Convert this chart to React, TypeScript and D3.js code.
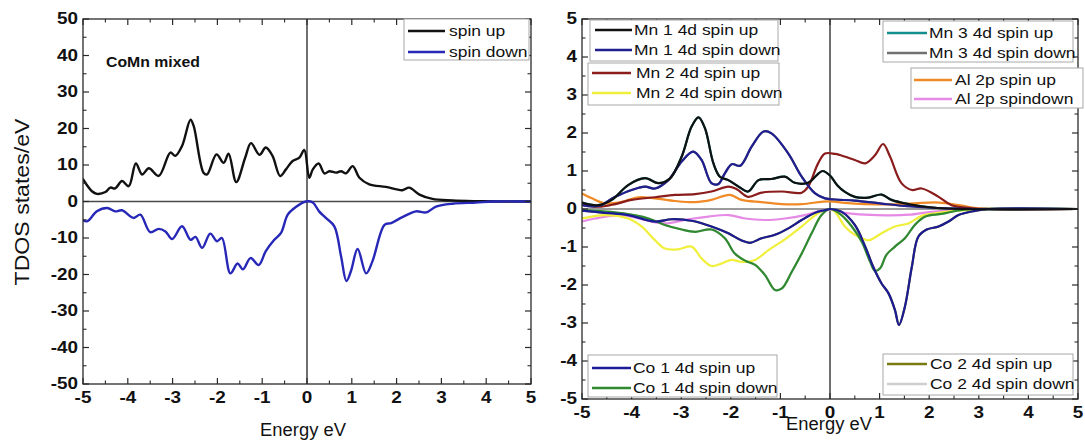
import React from 'react';
import * as d3 from 'd3';

type Pt = [number, number];

// ---------- tick labels ----------
const energyTicks = [-5, -4, -3, -2, -1, 0, 1, 2, 3, 4, 5];
const tdosTicks = [-50, -40, -30, -20, -10, 0, 10, 20, 30, 40, 50];
const pdosTicks = [-5, -4, -3, -2, -1, 0, 1, 2, 3, 4, 5];

// ---------- left panel: total DOS ----------
const tdosUp: Pt[] = [
  [-5, 6.1], [-4.8, 2.8], [-4.69, 2.1], [-4.5, 2.6], [-4.39, 3.8], [-4.28, 3.6], [-4.13, 5.6], [-3.98, 4.2],
  [-3.82, 10.4], [-3.68, 7.4], [-3.53, 9.1], [-3.31, 7], [-3.05, 13.4], [-2.94, 12.5], [-2.79, 15.2],
  [-2.6, 22.4], [-2.53, 20.7], [-2.31, 7.9], [-2.23, 7.4], [-2.02, 12.9], [-1.86, 10.6], [-1.75, 13.1],
  [-1.58, 5.3], [-1.38, 12], [-1.25, 16], [-1.06, 12.8], [-0.92, 14.8], [-0.77, 12.5], [-0.6, 7],
  [-0.47, 8.8], [-0.32, 11.1], [-0.17, 12], [-0.06, 14.1], [0.05, 6.5], [0.13, 8.8], [0.26, 10.4],
  [0.39, 7.7], [0.5, 8.3], [0.65, 7.9], [0.76, 8.3], [0.87, 7.7], [1.02, 9.7], [1.17, 6.5], [1.39, 4.7],
  [1.76, 4], [2.13, 3.1], [2.28, 3.8], [2.51, 1.9], [2.8, 0.7], [3.25, 0.3], [3.77, 0.1], [4.3, 0], [5, 0],
];
const tdosDown: Pt[] = [
  [-5, -5.2], [-4.9, -5.4], [-4.69, -2.7], [-4.46, -1.8], [-4.28, -2.7], [-4.13, -2.4], [-3.87, -4.5],
  [-3.72, -3.6], [-3.5, -8.4], [-3.31, -7.5], [-3.16, -8.2], [-3.01, -10.3], [-2.79, -6.8], [-2.6, -10.5],
  [-2.49, -9.7], [-2.34, -12.7], [-2.16, -8.8], [-2.01, -10.9], [-1.9, -10], [-1.71, -19.7], [-1.55, -17],
  [-1.43, -18.6], [-1.26, -15.5], [-1.08, -17.4], [-0.92, -13.6], [-0.73, -10.5], [-0.58, -8.6],
  [-0.43, -3.6], [-0.25, -1.5], [-0.02, 0], [0.13, -0.3], [0.27, -2.7], [0.42, -4.5], [0.61, -6.8],
  [0.76, -15], [0.88, -21.8], [0.98, -19.1], [1.13, -13], [1.32, -19.7], [1.46, -16.4], [1.73, -6.4],
  [1.88, -5.9], [2.13, -4.3], [2.43, -2.7], [2.66, -3], [2.88, -1.4], [3.25, -0.6], [3.77, -0.3], [4.15, 0], [5, 0],
];

// ---------- right panel: partial DOS ----------
const mn1Up: Pt[] = [
  [-5, 0.17], [-4.67, 0.1], [-4.4, 0.24], [-4.07, 0.63], [-3.73, 0.81], [-3.46, 0.68], [-3.23, 0.8],
  [-2.99, 1.38], [-2.79, 2.17], [-2.65, 2.41], [-2.52, 2.12], [-2.35, 1.2], [-2.22, 0.85], [-2.05, 0.76],
  [-1.81, 0.56], [-1.65, 0.46], [-1.44, 0.76], [-1.18, 0.79], [-0.91, 0.85], [-0.71, 0.69], [-0.44, 0.69],
  [-0.26, 0.9], [-0.15, 1.0], [0, 0.88], [0.15, 0.62], [0.3, 0.45], [0.5, 0.32], [0.77, 0.3], [1.04, 0.38],
  [1.24, 0.24], [1.58, 0.13], [2.05, 0.04], [2.72, 0], [5, 0],
];
const mn1Down: Pt[] = [
  [-5, 0.1], [-4.67, 0.08], [-4.33, 0.32], [-4.0, 0.5], [-3.73, 0.59], [-3.53, 0.54], [-3.26, 0.76],
  [-2.99, 1.25], [-2.76, 1.51], [-2.59, 1.29], [-2.39, 0.68], [-2.25, 0.66], [-2.12, 0.94], [-1.98, 1.18],
  [-1.81, 1.14], [-1.58, 1.64], [-1.34, 2.04], [-1.18, 1.99], [-0.84, 1.46], [-0.57, 0.85], [-0.3, 0.41],
  [-0.1, 0.28], [0.1, 0.25], [0.5, 0.22], [1.0, 0.15], [1.5, 0.08], [2.0, 0.04], [2.5, 0.01], [3, 0], [5, 0],
];
const mn2Up: Pt[] = [
  [-5, 0.13], [-4.67, 0.06], [-4.33, 0.13], [-4.0, 0.24], [-3.53, 0.31], [-3.12, 0.37], [-2.72, 0.39],
  [-2.39, 0.46], [-2.05, 0.59], [-1.88, 0.52], [-1.65, 0.32], [-1.38, 0.43], [-0.97, 0.46], [-0.57, 0.43],
  [-0.44, 0.59], [-0.24, 1.2], [-0.1, 1.46], [0.1, 1.45], [0.2, 1.42], [0.5, 1.29], [0.71, 1.2], [0.91, 1.42],
  [1.07, 1.71], [1.21, 1.38], [1.44, 0.68], [1.65, 0.5], [1.85, 0.54], [2.19, 0.32], [2.45, 0.1], [2.86, 0.02],
  [3.2, 0], [5, 0],
];
const mn2Down: Pt[] = [
  [-5, -0.25], [-4.54, -0.16], [-4.07, -0.25], [-3.8, -0.46], [-3.53, -0.82], [-3.33, -1.04], [-3.06, -1.06],
  [-2.79, -0.99], [-2.59, -1.3], [-2.39, -1.5], [-2.18, -1.43], [-1.98, -1.34], [-1.78, -1.39], [-1.51, -1.34],
  [-1.24, -1.08], [-0.91, -0.8], [-0.57, -0.46], [-0.24, -0.11], [0, 0], [0.1, -0.07], [0.3, -0.46],
  [0.5, -0.68], [0.7, -0.8], [0.8, -0.82], [1.04, -0.64], [1.31, -0.46], [1.58, -0.38], [1.85, -0.18],
  [2.25, -0.09], [2.72, -0.03], [3.2, 0], [5, 0],
];
const alUp: Pt[] = [
  [-5, 0.41], [-4.8, 0.28], [-4.54, 0.15], [-4.2, 0.19], [-3.86, 0.31], [-3.53, 0.28], [-3.12, 0.21],
  [-2.72, 0.18], [-2.39, 0.24], [-2.02, 0.37], [-1.78, 0.24], [-1.38, 0.18], [-0.97, 0.13], [-0.57, 0.13],
  [-0.17, 0.19], [0, 0.2], [0.3, 0.16], [0.7, 0.13], [1.2, 0.12], [1.7, 0.15], [2.2, 0.17], [2.6, 0.1],
  [3.0, 0.02], [3.3, 0], [5, 0],
];
const alDown: Pt[] = [
  [-5, -0.33], [-4.74, -0.25], [-4.2, -0.16], [-3.73, -0.29], [-3.33, -0.38], [-2.86, -0.27], [-2.45, -0.2],
  [-2.05, -0.16], [-1.71, -0.25], [-1.31, -0.29], [-0.91, -0.25], [-0.51, -0.16], [-0.17, -0.04], [0, -0.02],
  [0.3, -0.1], [0.7, -0.15], [1.2, -0.17], [1.6, -0.15], [2.0, -0.08], [2.5, -0.03], [3, 0], [5, 0],
];
const co1Up: Pt[] = [
  [-5, -0.04], [-4.54, -0.1], [-4.07, -0.16], [-3.53, -0.33], [-3.19, -0.27], [-2.79, -0.31], [-2.39, -0.46],
  [-2.05, -0.64], [-1.78, -0.83], [-1.61, -0.89], [-1.38, -0.77], [-1.11, -0.68], [-0.84, -0.51], [-0.57, -0.29],
  [-0.3, -0.1], [-0.1, -0.03], [0, 0], [0.23, -0.07], [0.5, -0.42], [0.71, -0.99], [0.87, -1.52], [1.04, -1.96],
  [1.18, -2.22], [1.31, -2.66], [1.39, -3.05], [1.51, -2.57], [1.65, -1.52], [1.78, -0.73], [1.95, -0.54],
  [2.19, -0.46], [2.39, -0.33], [2.59, -0.16], [2.92, -0.05], [3.19, 0], [5, 0],
];
const co1Down: Pt[] = [
  [-5, -0.03], [-4.2, -0.11], [-3.66, -0.25], [-3.33, -0.42], [-2.99, -0.54], [-2.72, -0.6], [-2.39, -0.54],
  [-2.12, -0.77], [-1.92, -1.17], [-1.71, -1.36], [-1.51, -1.47], [-1.31, -1.74], [-1.11, -2.13], [-0.97, -2.09],
  [-0.77, -1.65], [-0.57, -1.17], [-0.37, -0.64], [-0.17, -0.16], [0, 0], [0.23, -0.16], [0.44, -0.46],
  [0.64, -0.86], [0.81, -1.39], [0.91, -1.63], [1.01, -1.56], [1.14, -1.2], [1.31, -0.99], [1.51, -0.77],
  [1.71, -0.42], [1.92, -0.2], [2.25, -0.13], [2.59, -0.04], [3, 0], [5, 0],
];
// Mn 3 and Co 2 curves are hidden beneath the Mn 1 / Co 1 curves in the picture
const mn3Up: Pt[] = mn1Up;
const mn3Down: Pt[] = mn1Down;
const co2Up: Pt[] = co1Up;
const co2Down: Pt[] = co1Down;

const FONT = '"Liberation Sans", Arial, Helvetica, sans-serif';

type Series = { name: string; data: Pt[]; color: string; width?: number };

const C = {
  black: '#111111', tdosBlue: '#2727b8', navy: '#1f1f8f', coNavy: '#1b1b96', darkRed: '#8a1c1c',
  yellow: '#f0f03c', teal: '#138e8e', gray: '#707070', orange: '#ef8a26', violet: '#e68ae6',
  green: '#2f8a2f', olive: '#7a7a12', lightGray: '#cfcfcf',
};

function SText(props: {
  x: number; y: number; sx?: number; rot?: number; size: number; weight?: string | number;
  anchor?: 'start' | 'middle' | 'end'; children: React.ReactNode; fill?: string;
}) {
  const { x, y, sx = 1, rot = 0, size, weight = 'normal', anchor = 'start', children, fill = '#111' } = props;
  return (
    <text
      transform={`translate(${x},${y})${rot ? ` rotate(${rot})` : ''} scale(${sx},1)`}
      fontSize={size}
      fontWeight={weight}
      textAnchor={anchor}
      dominantBaseline="central"
      fontFamily={FONT}
      fill={fill}
    >
      {children}
    </text>
  );
}

type LegendEntry = { label: string; color: string };
function Legend(props: {
  box: [number, number, number, number]; lineX: [number, number]; textX: number; ys: number[];
  entries: LegendEntry[];
}) {
  const { box, lineX, textX, ys, entries } = props;
  return (
    <g>
      <rect x={box[0]} y={box[1]} width={box[2]} height={box[3]} fill="#fff" stroke="#a8a8a8" strokeWidth={1} />
      {entries.map((e, i) => (
        <g key={e.label}>
          <line x1={lineX[0]} x2={lineX[1]} y1={ys[i]} y2={ys[i]} stroke={e.color} strokeWidth={2.6} />
          <SText x={textX} y={ys[i]} size={14.8} sx={1.18}>{e.label}</SText>
        </g>
      ))}
    </g>
  );
}

function Panel(props: {
  id: string; x0: number; x1: number; y0: number; y1: number; yDomain: [number, number];
  yTicks: number[]; xLabelY: number; yLabelX: number; series: Series[]; zeroColor: string;
  title: { x: number; y: number };
  children?: React.ReactNode;
}) {
  const { id, x0, x1, y0, y1, yDomain, yTicks, xLabelY, yLabelX, series, zeroColor, title } = props;
  const x = d3.scaleLinear().domain([-5, 5]).range([x0, x1]);
  const y = d3.scaleLinear().domain(yDomain).range([y1, y0]);
  const lineGen = d3.line<Pt>().x((d) => x(d[0])).y((d) => y(d[1])).curve(d3.curveCatmullRom.alpha(0.5));
  const xMinor = x.ticks(20).filter((t) => !energyTicks.includes(t));
  const yMinor = y.ticks(20).filter((t) => !yTicks.includes(t));
  const maj = 6;
  const min = 3.5;
  const frame = '#2a2a2a';
  return (
    <g>
      <defs>
        <clipPath id={`clip-${id}`}>
          <rect x={x0} y={y0} width={x1 - x0} height={y1 - y0} />
        </clipPath>
      </defs>
      <line x1={x0} x2={x1} y1={y(0)} y2={y(0)} stroke={zeroColor} strokeWidth={1.3} />
      <line x1={x(0)} x2={x(0)} y1={y0} y2={y1} stroke="#111" strokeWidth={1.2} />
      <g clipPath={`url(#clip-${id})`}>
        {series.map((s) => (
          <path key={s.name} d={lineGen(s.data) || ''} fill="none" stroke={s.color} strokeWidth={s.width ?? 2.2}
            strokeLinejoin="round" strokeLinecap="round" />
        ))}
      </g>
      <rect x={x0} y={y0} width={x1 - x0} height={y1 - y0} fill="none" stroke={frame} strokeWidth={1.3} />
      {energyTicks.map((t) => (
        <g key={`xt${t}`}>
          <line x1={x(t)} x2={x(t)} y1={y1} y2={y1 - maj} stroke={frame} strokeWidth={1.2} />
          <line x1={x(t)} x2={x(t)} y1={y0} y2={y0 + maj} stroke={frame} strokeWidth={1.2} />
          <SText x={x(t)} y={xLabelY} size={16} weight="bold" sx={1.18} anchor="middle">{t}</SText>
        </g>
      ))}
      {xMinor.map((t) => (
        <g key={`xm${t}`}>
          <line x1={x(t)} x2={x(t)} y1={y1} y2={y1 - min} stroke={frame} strokeWidth={1.1} />
          <line x1={x(t)} x2={x(t)} y1={y0} y2={y0 + min} stroke={frame} strokeWidth={1.1} />
        </g>
      ))}
      {yTicks.map((t) => (
        <g key={`yt${t}`}>
          <line x1={x0} x2={x0 + maj} y1={y(t)} y2={y(t)} stroke={frame} strokeWidth={1.2} />
          <line x1={x1} x2={x1 - maj} y1={y(t)} y2={y(t)} stroke={frame} strokeWidth={1.2} />
          <SText x={yLabelX} y={y(t)} size={16} weight="bold" sx={1.18} anchor="end">{t}</SText>
        </g>
      ))}
      {yMinor.map((t) => (
        <g key={`ym${t}`}>
          <line x1={x0} x2={x0 + min} y1={y(t)} y2={y(t)} stroke={frame} strokeWidth={1.1} />
          <line x1={x1} x2={x1 - min} y1={y(t)} y2={y(t)} stroke={frame} strokeWidth={1.1} />
        </g>
      ))}
      <SText x={title.x} y={title.y} size={17.5} sx={1.05} anchor="middle">Energy eV</SText>
      {props.children}
    </g>
  );
}

export default function App() {
  const leftSeries: Series[] = [
    { name: 'spin up', data: tdosUp, color: C.black, width: 2.4 },
    { name: 'spin down', data: tdosDown, color: C.tdosBlue, width: 2.4 },
  ];
  const rightSeries: Series[] = [
    { name: 'Mn 3 4d spin up', data: mn3Up, color: C.teal },
    { name: 'Mn 3 4d spin down', data: mn3Down, color: C.gray },
    { name: 'Co 2 4d spin up', data: co2Up, color: C.olive },
    { name: 'Co 2 4d spin down', data: co2Down, color: C.lightGray },
    { name: 'Al 2p spindown', data: alDown, color: C.violet },
    { name: 'Al 2p spin up', data: alUp, color: C.orange },
    { name: 'Mn 2 4d spin down', data: mn2Down, color: C.yellow },
    { name: 'Co 1 4d spin down', data: co1Down, color: C.green },
    { name: 'Co 1 4d spin up', data: co1Up, color: C.coNavy },
    { name: 'Mn 2 4d spin up', data: mn2Up, color: C.darkRed },
    { name: 'Mn 1 4d spin down', data: mn1Down, color: C.navy },
    { name: 'Mn 1 4d spin up', data: mn1Up, color: C.black },
  ];
  return (
    <svg width={1085} height={440} viewBox="0 0 1085 440"
      style={{ position: 'absolute', left: 0, top: 0, background: '#fff', display: 'block' }}>
      <rect x={0} y={0} width={1085} height={440} fill="#fff" />
      <Panel id="left" x0={83} x1={531} y0={19} y1={384} yDomain={[-50, 50]} yTicks={tdosTicks}
        xLabelY={398} yLabelX={78} series={leftSeries} zeroColor="#4a4a4a" title={{ x: 303, y: 430 }}>
        <SText x={106} y={62} size={14} weight="bold" sx={1.13}>CoMn mixed</SText>
        <Legend box={[404, 19, 125, 41]} lineX={[408, 445]} textX={449} ys={[31, 52]}
          entries={[{ label: 'spin up', color: C.black }, { label: 'spin down', color: C.tdosBlue }]} />
      </Panel>
      <SText x={22} y={202} rot={-90} size={21} sx={1.1} anchor="middle">TDOS states/eV</SText>
      <Panel id="right" x0={582} x1={1078} y0={19} y1={399} yDomain={[-5, 5]} yTicks={pdosTicks}
        xLabelY={413} yLabelX={577} series={rightSeries} zeroColor="#7a7a7a" title={{ x: 829, y: 424 }}>
        <Legend box={[590, 20, 188, 41]} lineX={[595, 632]} textX={634} ys={[30, 50]}
          entries={[{ label: 'Mn 1 4d spin up', color: C.black }, { label: 'Mn 1 4d spin down', color: C.navy }]} />
        <Legend box={[588, 63, 191, 42]} lineX={[592, 631]} textX={636} ys={[73, 93]}
          entries={[{ label: 'Mn 2 4d spin up', color: C.darkRed }, { label: 'Mn 2 4d spin down', color: C.yellow }]} />
        <Legend box={[883, 21, 190, 41]} lineX={[887, 927]} textX={929} ys={[33, 53]}
          entries={[{ label: 'Mn 3 4d spin up', color: C.teal }, { label: 'Mn 3 4d spin down', color: C.gray }]} />
        <Legend box={[911, 68, 172, 40]} lineX={[914, 952]} textX={955} ys={[80, 99]}
          entries={[{ label: 'Al 2p spin up', color: C.orange }, { label: 'Al 2p spindown', color: C.violet }]} />
        <Legend box={[588, 355, 189, 42]} lineX={[592, 631]} textX={633} ys={[368, 388]}
          entries={[{ label: 'Co 1 4d spin up', color: C.coNavy }, { label: 'Co 1 4d spin down', color: C.green }]} />
        <Legend box={[883, 354, 190, 41]} lineX={[887, 927]} textX={930} ys={[364, 384]}
          entries={[{ label: 'Co 2 4d spin up', color: C.olive }, { label: 'Co 2 4d spin down', color: C.lightGray }]} />
      </Panel>
    </svg>
  );
}
